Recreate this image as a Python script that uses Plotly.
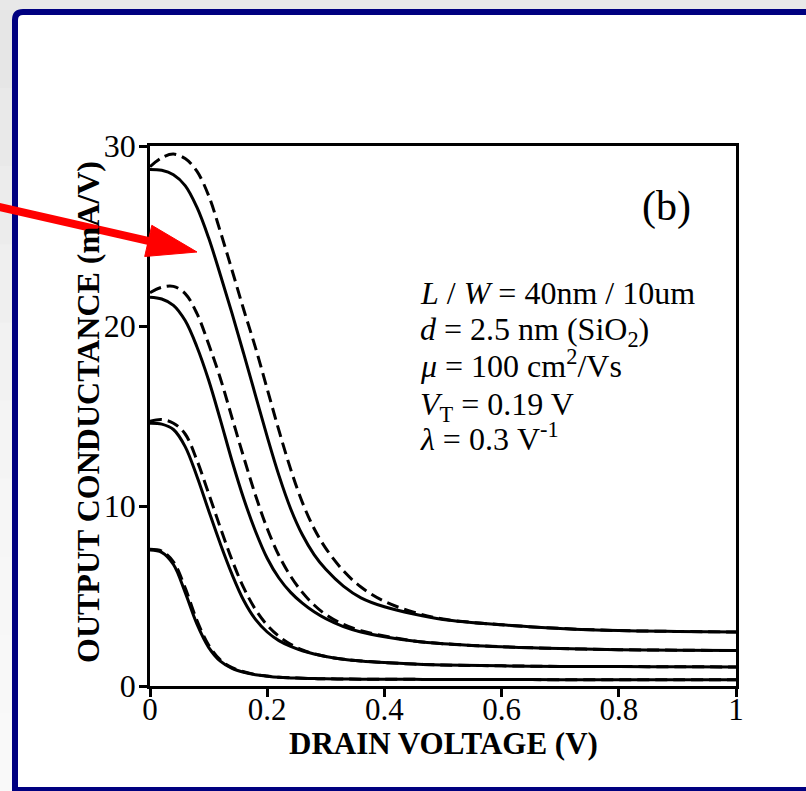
import math
import plotly.graph_objects as go

# ---------------- data ----------------
vd = [0, 0.02, 0.04, 0.06, 0.08, 0.10, 0.12, 0.14, 0.16, 0.18, 0.20, 0.22, 0.24,
      0.26, 0.28, 0.30, 0.33, 0.36, 0.40, 0.45, 0.50, 0.60, 0.70, 0.80, 0.90, 1.00]

solid_4 = [28.7, 28.65, 28.4, 27.8, 26.6, 24.9, 22.85, 20.7, 18.45, 16.15, 13.85, 11.7, 9.85,
           8.4, 7.3, 6.48, 5.55, 4.9, 4.4, 4.0, 3.7, 3.4, 3.2, 3.08, 3.03, 3.0]
dash_4 = [28.85, 29.35, 29.55, 29.3, 28.6, 27.25, 25.25, 23.1, 20.9, 18.8, 16.5, 14.2, 12.05,
          10.2, 8.75, 7.65, 6.4, 5.5, 4.7, 4.1, 3.72, 3.4, 3.2, 3.08, 3.03, 3.0]
solid_3 = [21.6, 21.5, 21.15, 20.3, 18.85, 17.0, 14.8, 12.5, 10.4, 8.6, 7.1, 6.0, 5.2,
           4.6, 4.12, 3.74, 3.3, 3.0, 2.74, 2.5, 2.35, 2.18, 2.08, 2.02, 1.99, 1.97]
dash_3 = [21.85, 22.15, 22.2, 21.8, 20.7, 19.0, 17.1, 14.9, 12.7, 10.6, 8.75, 7.25, 6.1,
          5.2, 4.5, 3.97, 3.42, 3.07, 2.78, 2.5, 2.35, 2.18, 2.08, 2.02, 1.99, 1.97]
solid_2 = [14.6, 14.55, 14.25, 13.3, 11.65, 9.75, 7.9, 6.2, 4.75, 3.7, 3.0, 2.52, 2.2,
           1.96, 1.78, 1.64, 1.49, 1.39, 1.3, 1.22, 1.17, 1.12, 1.09, 1.08, 1.07, 1.06]
dash_2 = [14.7, 14.8, 14.6, 14.0, 12.55, 10.7, 8.8, 7.0, 5.45, 4.25, 3.38, 2.76, 2.32,
          2.0, 1.79, 1.64, 1.49, 1.39, 1.3, 1.22, 1.17, 1.12, 1.09, 1.08, 1.07, 1.06]
solid_1 = [7.55, 7.42, 6.75, 5.2, 3.45, 2.15, 1.38, 0.98, 0.76, 0.62, 0.54, 0.48, 0.45,
           0.43, 0.41, 0.40, 0.39, 0.38, 0.37, 0.37, 0.36, 0.36, 0.35, 0.35, 0.35, 0.35]
dash_1 = [7.6, 7.5, 6.9, 5.45, 3.65, 2.28, 1.45, 1.02, 0.79, 0.64, 0.55, 0.48, 0.45,
          0.43, 0.41, 0.40, 0.39, 0.38, 0.37, 0.37, 0.36, 0.36, 0.35, 0.35, 0.35, 0.35]

x_ticks = [0, 0.2, 0.4, 0.6, 0.8, 1]
x_tick_text = ["0", "0.2", "0.4", "0.6", "0.8", "1"]
y_ticks = [0, 10, 20, 30]
y_tick_text = ["0", "10", "20", "30"]

x_title = "DRAIN VOLTAGE (V)"
y_title = "OUTPUT CONDUCTANCE (mA/V)"
panel_label = "(b)"
param_lines = [
    "<i>L</i> / <i>W</i> = 40nm / 10um",
    "<i>d</i> = 2.5 nm (SiO<sub>2</sub>)",
    "<i>μ</i> = 100 cm<sup>2</sup>/Vs",
    "<i>V</i><sub>T</sub> = 0.19 V",
    "<i>λ</i> = 0.3 V<sup>-1</sup>",
]

# ---------------- layout geometry ----------------
W, H = 806, 791
PL, PR, PT, PB = 150, 736, 146, 686   # plot area in pixels


def px(xp):
    return (xp - PL) / (PR - PL)


def py(yp):
    return (PB - yp) / (PB - PT)


FONT = "Liberation Serif, Times New Roman, serif"

fig = go.Figure()

pairs = [(solid_1, dash_1), (solid_2, dash_2), (solid_3, dash_3), (solid_4, dash_4)]
for s, d in pairs:
    fig.add_trace(go.Scatter(x=vd, y=s, mode="lines",
                             line=dict(color="black", width=3, shape="spline", smoothing=1.0),
                             showlegend=False, hoverinfo="skip"))
    fig.add_trace(go.Scatter(x=vd, y=d, mode="lines",
                             line=dict(color="black", width=3, dash="12px,6px",
                                       shape="spline", smoothing=1.0),
                             showlegend=False, hoverinfo="skip"))

shapes = []
# soft gradient on the left grey margin (slide background)
strip_cols = ["#e6e6e6", "#e9e9e9", "#ececec", "#efefef", "#f2f2f2", "#f4f4f4",
              "#f6f6f6", "#f7f7f7", "#f8f8f8", "#f9f9f9"]
seg = (791 - 10) / len(strip_cols)
for i, col in enumerate(strip_cols):
    shapes.append(dict(type="rect", xref="paper", yref="paper", layer="below",
                       x0=px(-2), x1=px(14), y0=py(10 + i * seg), y1=py(10 + (i + 1) * seg + 1),
                       line=dict(width=0), fillcolor=col))

# slide frame (white panel with navy border, rounded top-left corner)
frame = ("M {a},{b} L {a},{c} Q {a},{d} {e},{d} L {f},{d} L {f},{b} Z").format(
    a=px(15), b=py(790), c=py(20), d=py(12), e=px(23), f=px(840))
shapes.append(dict(type="path", xref="paper", yref="paper", layer="below", path=frame,
                   line=dict(color="#000080", width=6), fillcolor="white"))

# red arrow
tip = (197, 252)
start = (-5, 206)
dx, dy = tip[0] - start[0], tip[1] - start[1]
ln = math.hypot(dx, dy)
ux, uy = dx / ln, dy / ln
nx, ny = -uy, ux
head_len, head_half = 50, 16
bx, by = tip[0] - head_len * ux, tip[1] - head_len * uy
c1 = (bx + head_half * nx, by + head_half * ny)
c2 = (bx - head_half * nx, by - head_half * ny)
shapes.append(dict(type="line", xref="paper", yref="paper", layer="above",
                   x0=px(start[0]), y0=py(start[1]), x1=px(bx + 2 * ux), y1=py(by + 2 * uy),
                   line=dict(color="#ff0000", width=8)))
path = "M {:.5f},{:.5f} L {:.5f},{:.5f} L {:.5f},{:.5f} Z".format(
    px(tip[0]), py(tip[1]), px(c1[0]), py(c1[1]), px(c2[0]), py(c2[1]))
shapes.append(dict(type="path", xref="paper", yref="paper", layer="above", path=path,
                   fillcolor="#ff0000", line=dict(color="#ff0000", width=1)))

annotations = []
line_centers = [293, 331, 364, 406, 437]
for txt, yc in zip(param_lines, line_centers):
    annotations.append(dict(text=txt, xref="paper", yref="paper", x=px(418), y=py(yc),
                            xanchor="left", yanchor="middle", showarrow=False,
                            font=dict(family=FONT, size=32, color="black")))
annotations.append(dict(text=panel_label, xref="paper", yref="paper", x=px(666), y=py(206),
                        xanchor="center", yanchor="middle", showarrow=False,
                        font=dict(family=FONT, size=42, color="black")))
annotations.append(dict(text="<b>" + x_title + "</b>", xref="paper", yref="paper",
                        x=px(443), y=py(743), xanchor="center", yanchor="middle",
                        showarrow=False, font=dict(family=FONT, size=31, color="black")))
annotations.append(dict(text="<b>" + y_title + "</b>", xref="paper", yref="paper",
                        x=px(88), y=py(412), xanchor="center", yanchor="middle",
                        textangle=-90, showarrow=False,
                        font=dict(family=FONT, size=32, color="black")))

fig.update_layout(
    width=W, height=H, autosize=False,
    margin=dict(l=PL, r=W - PR, t=PT, b=H - PB, pad=0),
    paper_bgcolor="#e8e8e8", plot_bgcolor="white",
    shapes=shapes, annotations=annotations, showlegend=False,
    xaxis=dict(range=[0, 1], tickvals=x_ticks, ticktext=x_tick_text,
               showgrid=False, zeroline=False, showline=True, linecolor="black",
               linewidth=2.5, mirror=True, ticks="outside", ticklen=8, tickwidth=2.5,
               tickcolor="black", ticklabelstandoff=-14,
               tickfont=dict(family=FONT, size=31, color="black")),
    yaxis=dict(range=[0, 30], tickvals=y_ticks, ticktext=y_tick_text,
               showgrid=False, zeroline=False, showline=True, linecolor="black",
               linewidth=2.5, mirror=True, ticks="outside", ticklen=8, tickwidth=2.5,
               tickcolor="black", ticklabelstandoff=-3,
               tickfont=dict(family=FONT, size=32, color="black")),
)

fig.write_html("out.html", config={"displayModeBar": False},
               post_script="document.body.style.margin='0px';")
